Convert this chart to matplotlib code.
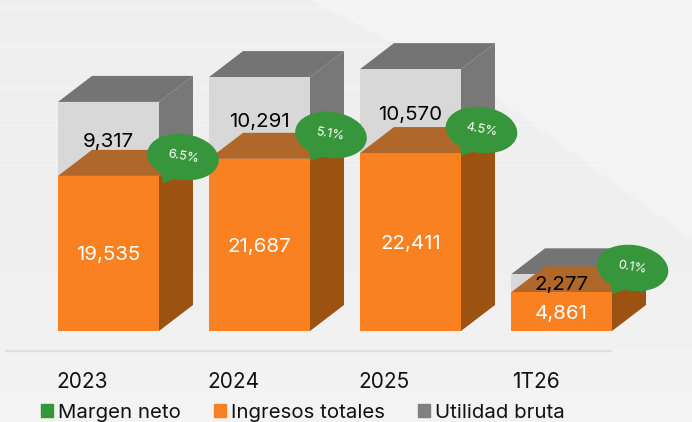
import matplotlib
matplotlib.use("Agg")
from matplotlib import pyplot as plt
from matplotlib.patches import Ellipse, Polygon, Patch
import numpy as np

plt.rcParams['font.family'] = ['Inter', 'DejaVu Sans']

periods = ['2023', '2024', '2025', '1T26']
ingresos = [19535, 21687, 22411, 4861]
utilidad = [9317, 10291, 10570, 2277]
margen = ['6.5%', '5.1%', '4.5%', '0.1%']

# pixel layout of the reference
bar_left = [58, 209, 360, 511]
bar_w = 101
depth_x = 34
px_per_unit = 0.00794
depth_y = 26 / px_per_unit
bubble_xy = [(183, 157), (331, 135), (481.5, 130), (632.5, 268)]
label_shift = [4270, 4620, 4820, 900]  # black labels sit above the orange top, not centred

ORANGE = '#fa8121'
ORANGE_TOP = '#b0672a'
ORANGE_SIDE = '#9c5312'
GRAY_FRONT = '#d8d8d8'
GRAY_TOP = '#747474'
GRAY_SIDE = '#787878'
GREEN = '#37963c'

fig = plt.figure(figsize=(6.92, 4.22), dpi=100, facecolor='#f0efef')

# background shapes
bg = fig.add_axes([0, 0, 1, 1], zorder=0)
bg.set_xlim(0, 692)
bg.set_ylim(422, 0)
bg.axis('off')
bg.add_patch(Polygon([(0, 0), (310, 0), (500, 100), (692, 240), (692, 422), (0, 422)], color='#f0efef', lw=0))
bg.add_patch(Polygon([(310, 0), (692, 0), (692, 240), (500, 100)], color='#f3f3f3', lw=0))
ramp = np.zeros((64, 2, 4))
ramp[:, :, :3] = 1
ramp[:, :, 3] = np.linspace(0, 0.3, 64)[:, None]
bg.imshow(ramp, extent=(0, 692, 422, 230), aspect='auto', zorder=2)
bg.set_xlim(0, 692)
bg.set_ylim(422, 0)
for y in [8, 47, 88, 125, 165]:
    bg.axhline(y, color='white', alpha=0.2, lw=1.5)

# bars, y axis in data units
ax = fig.add_axes([0, (422 - 351) / 422, 1, 351 / 422], zorder=1)
ax.patch.set_alpha(0)
ax.set_xlim(0, 692)
ax.set_ylim(-20 / px_per_unit, 331 / px_per_unit)
for s in ['top', 'left', 'right']:
    ax.spines[s].set_visible(False)
ax.spines['bottom'].set_bounds(6, 611)
ax.spines['bottom'].set_color('#dfdfdf')
ax.spines['bottom'].set_linewidth(1.6)
ax.set_yticks([])


def box(x, y0, y1, front, top, side):
    ax.fill([x + bar_w, x + bar_w + depth_x, x + bar_w + depth_x, x + bar_w],
            [y0, y0 + depth_y, y1 + depth_y, y1], color=side, lw=0)
    ax.fill([x, x + depth_x, x + bar_w + depth_x, x + bar_w],
            [y1, y1 + depth_y, y1 + depth_y, y1], color=top, lw=0)
    ax.bar(x, y1 - y0, bar_w, bottom=y0, align='edge', color=front, lw=0)


for i in range(4):
    x = bar_left[i]
    box(x, ingresos[i], ingresos[i] + utilidad[i], GRAY_FRONT, GRAY_TOP, GRAY_SIDE)
    box(x, 0, ingresos[i], ORANGE, ORANGE_TOP, ORANGE_SIDE)

    ax.text(x + bar_w / 2, ingresos[i] * 0.5 - 250, f'{ingresos[i]:,}', color='white',
            fontsize=14.8, ha='center', va='center', zorder=5)
    ax.text(x + bar_w / 2, ingresos[i] + label_shift[i], f'{utilidad[i]:,}', color='black',
            fontsize=14.8, ha='center', va='center', zorder=5)

ax.set_xticks([x + 24.5 for x in bar_left], periods)
ax.tick_params(axis='x', length=0, pad=15, labelsize=15, labelcolor='#111111')

# speech bubbles
top = fig.add_axes([0, 0, 1, 1], zorder=2)
top.set_xlim(0, 692)
top.set_ylim(422, 0)
top.axis('off')
for (cx, cy), txt in zip(bubble_xy, margen):
    top.add_patch(Ellipse((cx, cy), 72, 46, angle=8, color=GREEN, lw=0))
    top.add_patch(Polygon([(cx - 22, cy + 14), (cx - 20, cy + 26), (cx - 6, cy + 21)], color=GREEN, lw=0))
    top.text(cx, cy, txt, color='white', fontsize=9.2, rotation=-10, ha='center', va='center')

handles = [Patch(color=GREEN), Patch(color=ORANGE), Patch(color='#808080')]
fig.legend(handles, ['Margen neto', 'Ingresos totales', 'Utilidad bruta'], ncol=3,
           loc='lower left', bbox_to_anchor=(41 / 692, 0), frameon=False,
           fontsize=14.7, handlelength=0.6, handleheight=0.6, handletextpad=0.25,
           columnspacing=1.6, borderpad=0, borderaxespad=0, labelcolor='#111111')

fig.savefig('out.png', dpi=100, facecolor=fig.get_facecolor())
